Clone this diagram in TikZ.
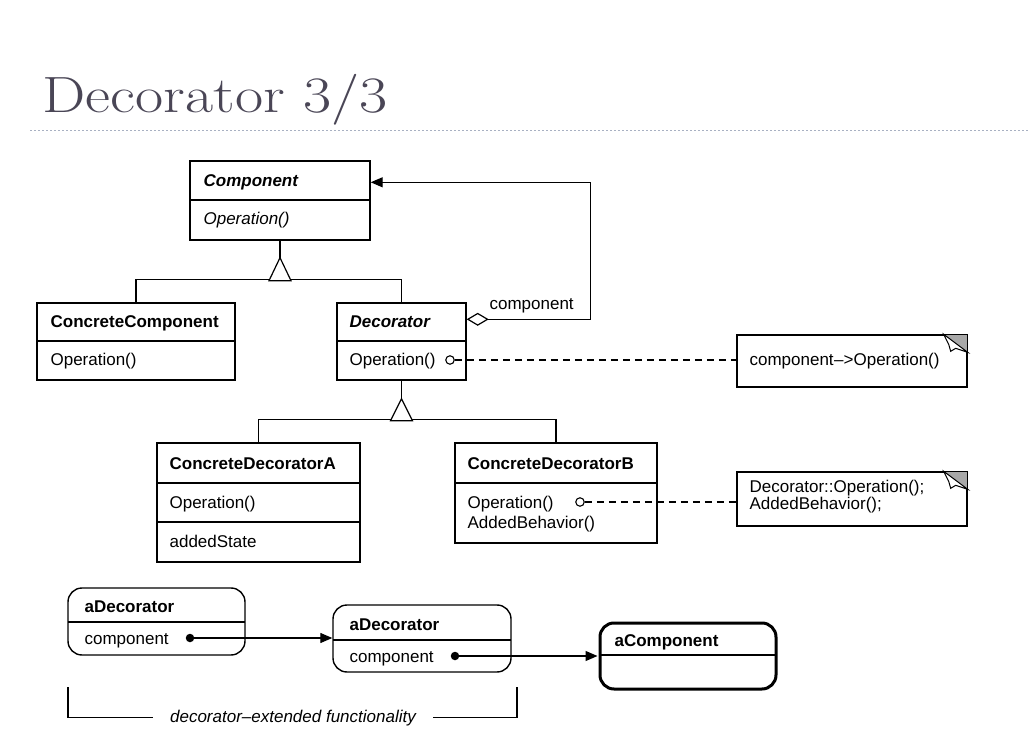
\documentclass[tikz,border=0pt]{standalone}
\usepackage{fontspec}
\setmainfont{Liberation Sans}
\newfontfamily\headfont{Latin Modern Roman}
\usetikzlibrary{arrows.meta,calc}
\definecolor{headgray}{HTML}{4A4656}
\definecolor{rulegray}{HTML}{A8B0C2}
\definecolor{cornergray}{HTML}{A8A8A8}
\begin{document}
\begin{tikzpicture}[x=1pt,y=-1pt,
  line width=1.2pt,
  box/.style={draw, line width=1.4pt, inner sep=0pt, fill=white},
  obj/.style={box, rounded corners=14pt},
  txt/.style={anchor=base west, inner sep=0pt, font=\fontsize{17}{19}\selectfont},
  btxt/.style={txt, font=\fontsize{17}{19}\selectfont\bfseries},
  bitxt/.style={txt, font=\fontsize{17}{19}\selectfont\bfseries\itshape},
  itxt/.style={txt, font=\fontsize{17}{19}\selectfont\itshape},
  port/.style={circle, draw, fill=white, line width=1.1pt, minimum size=8.5pt, inner sep=0pt},
  refdot/.style={circle, fill=black, minimum size=8.5pt, inner sep=0pt},
  link/.style={dash pattern=on 7pt off 5pt},
  opentri/.style={draw, fill=white, line width=1.2pt},
  tip/.style={-{Triangle[length=12pt,width=10pt]}}
]
\useasboundingbox (0,0) rectangle (1029,746);

% heading and rule
\node[anchor=base west, inner sep=0pt, text=headgray,
      font=\headfont\fontsize{51}{60}\selectfont] (head) at (42,113)
      {\scalebox{1.2}[1]{Decorator 3/3}};
\draw[rulegray, line width=0.9pt, dash pattern=on 2pt off 2pt] (30,130) -- (1029,130);

% ---------- class diagram ----------
% Component
\node[box, minimum width=180pt, minimum height=79pt] (comp) at (280,200.5) {};
\draw[line width=1.4pt] (190,200) -- (370,200);
\node[bitxt] (compname) at (203,187) {Component};
\node[itxt] (compop) at (203,225) {Operation()};

% ConcreteComponent
\node[box, minimum width=198pt, minimum height=77pt] (cc) at (136,341.5) {};
\draw[line width=1.4pt] (37,341) -- (235,341);
\node[btxt] (ccname) at (50,327) {ConcreteComponent};
\node[txt] (ccop) at (50,366) {Operation()};

% Decorator
\node[box, minimum width=129pt, minimum height=77pt] (dec) at (401.5,341.5) {};
\draw[line width=1.4pt] (337,341) -- (466,341);
\node[bitxt] (decname) at (349,327) {Decorator};
\node[txt] (decop) at (349,366) {Operation()};
\node[port] (decport) at (450,360) {};

% ConcreteDecoratorA
\node[box, minimum width=203pt, minimum height=119pt] (cda) at (258.5,502.5) {};
\draw[line width=1.4pt] (157,483) -- (360,483);
\draw[line width=1.4pt] (157,522) -- (360,522);
\node[btxt] (cdaname) at (169,469) {ConcreteDecoratorA};
\node[txt] (cdaop) at (169,508) {Operation()};
\node[txt] (cdastate) at (169,547) {addedState};

% ConcreteDecoratorB
\node[box, minimum width=202pt, minimum height=100pt] (cdb) at (556,493) {};
\draw[line width=1.4pt] (455,483) -- (657,483);
\node[btxt] (cdbname) at (467,469) {ConcreteDecoratorB};
\node[txt] (cdbop) at (467,508) {Operation()};
\node[txt] (cdbadd) at (467,528) {AddedBehavior()};
\node[port] (cdbport) at (580,502) {};

% notes with folded corner
\node[box, minimum width=230pt, minimum height=52pt] (note1) at (852,361) {};
\node[txt] (note1txt) at (749,366) {component{\kern0.5pt}–>Operation()};
\node[box, minimum width=230pt, minimum height=54pt] (note2) at (852,499) {};
\node[txt, align=left, anchor=north west, font=\fontsize{17}{15.5}\selectfont] (note2txt) at (749,480)
  {Decorator::Operation();\\AddedBehavior();};
\foreach \n in {note1,note2}{
  \fill[cornergray] (\n.north east) -- ++(-24,0) -- ++(24,18) -- cycle;
  \draw[line width=1pt, fill=white] ($(\n.north east)+(-24,0)$) -- ++(5,10) -- ++(2,7) -- ++(5,-3) -- ++(12,4) -- cycle;
  \draw[line width=1.4pt] (\n.north east) -- ++(-26,0);
  \draw[line width=1.4pt] (\n.north east) -- ++(0,20);
}

% generalisation: Component <- ConcreteComponent, Decorator
\draw (comp.south) -- ++(0,17) coordinate (apex1);
\draw (cc.north) -- ++(0,-23) -| (dec.north);
\draw[opentri] (apex1) -- ++(-11,23) -- ++(22,0) -- cycle;

% generalisation: Decorator <- ConcreteDecoratorA, ConcreteDecoratorB
\draw (dec.south) -- ++(0,18) coordinate (apex2);
\draw (cda.north) -- ++(0,-23) -| (cdb.north);
\draw[opentri] (apex2) -- ++(-11,22) -- ++(22,0) -- cycle;

% aggregation Decorator <>-> Component
\coordinate (aggfrom) at ($(dec.north east)+(0,17)$);
\coordinate (aggto) at ($(comp.north east)+(0,22)$);
\draw[{Diamond[open,length=22pt,width=13pt,line width=1.2pt]}-{Triangle[length=12pt,width=10pt]}]
  (aggfrom) -- ++(124,0) |- (aggto);
\node[txt] (agglabel) at (489,310) {component};

% implementation notes
\draw[link] (decport) -- (note1.west |- decport);
\draw[link] (cdbport) -- (note2.west |- cdbport);

% ---------- object diagram ----------
\node[obj, minimum width=177pt, minimum height=67pt] (od1) at (156.5,621.5) {};
\draw[line width=1.4pt] (68,622) -- (245,622);
\node[btxt] (od1name) at (84,612) {aDecorator};
\node[txt] (od1ref) at (84,644) {component};
\node[refdot] (od1dot) at (190,638) {};

\node[obj, minimum width=178pt, minimum height=67pt] (od2) at (422,638.5) {};
\draw[line width=1.4pt] (333,640) -- (511,640);
\node[btxt] (od2name) at (349,630) {aDecorator};
\node[txt] (od2ref) at (349,662) {component};
\node[refdot] (od2dot) at (455,656) {};

\node[obj, line width=3pt, minimum width=176pt, minimum height=66pt] (oc) at (688,656) {};
\draw[line width=2.6pt] (600,655) -- (776,655);
\node[btxt] (ocname) at (614,646) {aComponent};

\draw[tip] (od1dot.center) -- (od2.west |- od1dot);
\draw[tip] (od2dot.center) -- ($(oc.west |- od2dot)+(-1,0)$);

% bracket
\node[itxt, anchor=base] (brtxt) at (293,722) {decorator–extended functionality};
\coordinate (brl) at (68,687);
\coordinate (brr) at (517,687);
\draw (brl) |- ($(brtxt.west)+(-17,0)$);
\draw (brr) |- ($(brtxt.east)+(17,0)$);
\end{tikzpicture}
\end{document}
